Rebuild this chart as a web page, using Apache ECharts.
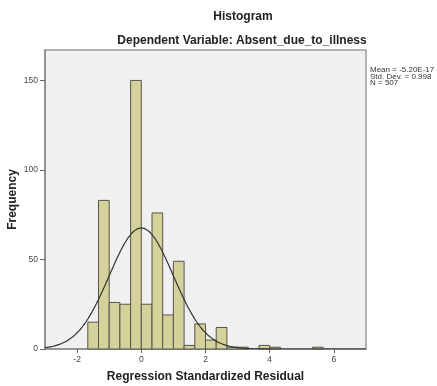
<!DOCTYPE html>
<html>
<head>
<meta charset="utf-8">
<script src="https://cdn.jsdelivr.net/npm/echarts@6/dist/echarts.min.js"></script>
<style>
  html, body { margin: 0; padding: 0; background: #ffffff; }
  #chart { width: 437px; height: 386px; }
</style>
</head>
<body>
<div id="chart"></div>
<script>
// Histogram bins: lower edge of each bin and its frequency (bin width 1/3)
const binWidth = 1 / 3;
const binLower = [-5/3, -4/3, -1, -2/3, -1/3, 0, 1/3, 2/3, 1, 4/3, 5/3, 2, 7/3, 8/3, 3, 11/3, 4, 16/3];
const counts   = [15, 83, 26, 25, 150, 25, 76, 19, 49, 2, 14, 5, 12, 1, 1, 2, 1, 1];

// Summary statistics of the residuals
const statMean = -5.20e-17;
const statSd = 0.998;
const statN = 507;
const statLines = ['Mean = -5.20E-17', 'Std. Dev. = 0.998', 'N = 507'];

// Axis ticks
const xTicks = [-2, 0, 2, 4, 6];
const yTicks = [0, 50, 100, 150];
const xRange = [-3, 7];
const yRange = [0, 167];

// Bar rectangles as [start, end, count]
const barData = binLower.map((lo, i) => [lo, lo + binWidth, counts[i]]);

// Normal curve scaled to the histogram (N * bin width * density)
const curveData = [];
for (let x = xRange[0]; x <= xRange[1] + 1e-9; x += 0.05) {
  const z = (x - statMean) / statSd;
  const y = statN * binWidth * Math.exp(-0.5 * z * z) / (statSd * Math.sqrt(2 * Math.PI));
  curveData.push([x, y]);
}

const font = 'Liberation Sans, Arial, sans-serif';
const chart = echarts.init(document.getElementById('chart'), null, { renderer: 'canvas' });

chart.setOption({
  backgroundColor: '#ffffff',
  animation: false,
  grid: {
    left: 45, top: 50, width: 321, height: 299,
    containLabel: false,
    outerBoundsMode: 'none',
    show: true,
    backgroundColor: '#f0f0f0',
    borderColor: '#9c9c9c',
    borderWidth: 1.5
  },
  xAxis: {
    type: 'value',
    min: xRange[0], max: xRange[1],
    name: 'Regression Standardized Residual',
    nameLocation: 'middle',
    nameGap: 22,
    nameMoveOverlap: false,
    nameTextStyle: { fontFamily: font, fontWeight: 'bold', fontSize: 12, color: '#222' },
    axisLine: { show: true, onZero: false, lineStyle: { color: '#8a8a8a', width: 1.5 } },
    axisTick: { show: true, length: 4, customValues: xTicks, lineStyle: { color: '#666' } },
    axisLabel: { customValues: xTicks, margin: 6, fontFamily: font, fontSize: 8.5, color: '#444' },
    splitLine: { show: false }
  },
  yAxis: {
    type: 'value',
    min: yRange[0], max: yRange[1],
    name: 'Frequency',
    nameLocation: 'middle',
    nameRotate: 90,
    nameGap: 26,
    nameMoveOverlap: false,
    nameTextStyle: { fontFamily: font, fontWeight: 'bold', fontSize: 12, color: '#222' },
    axisLine: { show: true, onZero: false, lineStyle: { color: '#8a8a8a', width: 1.5 } },
    axisTick: { show: true, length: 5, customValues: yTicks, lineStyle: { color: '#666' } },
    axisLabel: { customValues: yTicks, margin: 7, fontFamily: font, fontSize: 8.5, color: '#444' },
    splitLine: { show: false }
  },
  graphic: [
    { type: 'text', x: 243, y: 17, style: { text: 'Histogram', fontFamily: font, fontWeight: 'bold', fontSize: 12, fill: '#222', textAlign: 'center', textVerticalAlign: 'middle' } },
    { type: 'text', x: 242, y: 41, style: { text: 'Dependent Variable: Absent_due_to_illness', fontFamily: font, fontWeight: 'bold', fontSize: 12, fill: '#222', textAlign: 'center', textVerticalAlign: 'middle' } },
    { type: 'text', x: 370, y: 67, style: { text: statLines.join('\n'), fontFamily: font, fontSize: 8, lineHeight: 6.5, fill: '#333', textAlign: 'left', textVerticalAlign: 'top' } }
  ],
  series: [
    {
      type: 'custom',
      data: barData,
      encode: { x: [0, 1], y: 2 },
      renderItem: function (params, api) {
        const p0 = api.coord([api.value(0), api.value(2)]);
        const p1 = api.coord([api.value(1), 0]);
        return {
          type: 'rect',
          shape: { x: p0[0], y: p0[1], width: p1[0] - p0[0], height: p1[1] - p0[1] },
          style: { fill: '#d5d19a', stroke: '#55554a', lineWidth: 1 }
        };
      },
      z: 2
    },
    {
      type: 'line',
      data: curveData,
      showSymbol: false,
      smooth: true,
      lineStyle: { color: '#333333', width: 1.2 },
      z: 3
    }
  ]
});
</script>
</body>
</html>
